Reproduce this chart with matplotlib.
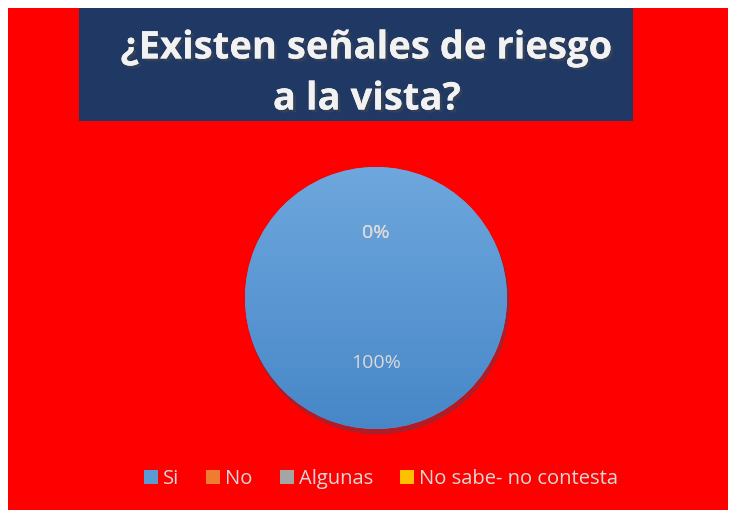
import matplotlib

matplotlib.use("Agg")
import matplotlib.pyplot as plt
import numpy as np
from matplotlib.patches import Rectangle, Patch
import matplotlib.patheffects as pe

categories = ["Si", "No", "Algunas", "No sabe- no contesta"]
values = [100, 0, 0, 0]
colors = ["#5B9BD5", "#ED7D31", "#A5A5A5", "#FFC000"]
title = "¿Existen señales de riesgo\na la vista?"

fig = plt.figure(figsize=(7.34, 5.14), dpi=100)
fig.patch.set_facecolor("white")

# red chart area and dark title box
fig.patches.append(Rectangle((8 / 734, 4 / 514), 720 / 734, 502 / 514,
                             transform=fig.transFigure, facecolor="#FF0000",
                             edgecolor="none", zorder=-2))
fig.patches.append(Rectangle((79 / 734, 393 / 514), 554 / 734, 113 / 514,
                             transform=fig.transFigure, facecolor="#203864",
                             edgecolor="none", zorder=-1))
fig.text(0.5, 440 / 514, title, ha="center", va="center", color="#F2F2F2",
         fontsize=27.5, fontweight="bold", family="Open Sans", linespacing=1.45,
         path_effects=[pe.withSimplePatchShadow(offset=(2, -2), alpha=0.5),
                       pe.Normal()])

# pie
ax = fig.add_axes([(376 - 131) / 734, (514 - 298 - 131) / 514, 262 / 734, 262 / 514])
ax.set_facecolor("none")
wedges, texts, autotexts = ax.pie(
    values, colors=colors, startangle=90, counterclock=False,
    autopct="%1.0f%%", pctdistance=0.5, radius=1.0,
    textprops=dict(color="#D9D9D9", fontsize=14, family="Open Sans"),
    shadow=dict(ox=0.01, oy=-0.025, shade=0.5, alpha=0.35),
)
ax.set_xlim(-1.0, 1.0)
ax.set_ylim(-1.0, 1.0)

# vertical gradient on the full wedge
grad = np.linspace(0, 1, 256).reshape(-1, 1)
top = np.array([0x6E, 0xA7, 0xDD]) / 255
bottom = np.array([0x47, 0x87, 0xC8]) / 255
img = top[None, None, :] * (1 - grad[:, :, None]) + bottom[None, None, :] * grad[:, :, None]
im = ax.imshow(img, extent=[-1, 1, -1, 1], origin="upper", zorder=1.5, aspect="auto")
im.set_clip_path(wedges[0])
for t in autotexts:
    t.set_zorder(3)

# legend
handles = [Patch(facecolor=c, edgecolor="none") for c in colors]
fig.legend(handles, categories, loc="center", bbox_to_anchor=(381 / 734, 35 / 514),
           ncol=4, frameon=False, handlelength=0.7,
           handleheight=0.7, handletextpad=0.25, columnspacing=1.35,
           labelcolor="#D9D9D9", prop=dict(family="Open Sans", size=14.5))

fig.savefig("out.png", dpi=100, facecolor=fig.get_facecolor())
